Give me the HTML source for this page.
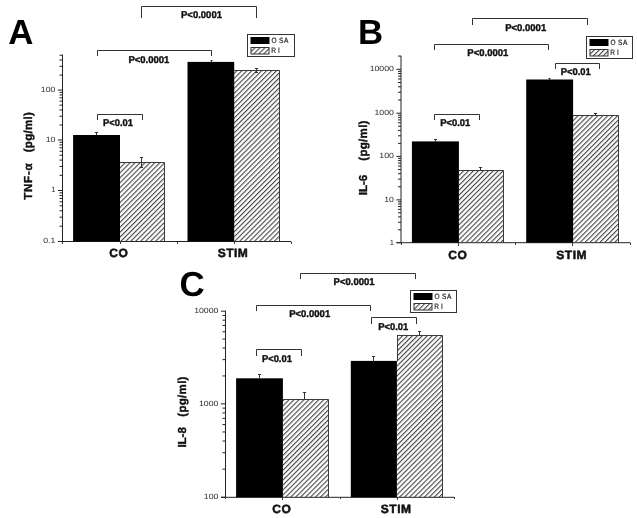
<!DOCTYPE html>
<html><head><meta charset="utf-8"><title>Figure</title>
<style>
html,body{margin:0;padding:0;background:#fff;}
svg{display:block;font-family:"Liberation Sans",sans-serif;text-rendering:geometricPrecision;}
</style></head><body>
<svg width="637" height="518" viewBox="0 0 637 518">
<defs><pattern id="h" width="3.5" height="3.5" patternUnits="userSpaceOnUse" patternTransform="rotate(-45)"><rect x="0" y="0" width="3.5" height="1.1" fill="#444"/></pattern></defs>
<rect width="637" height="518" fill="#fff"/>
<line x1="62.50" y1="54.70" x2="62.50" y2="242.00" stroke="#222" stroke-width="1"/>
<line x1="58.00" y1="241.50" x2="291.30" y2="241.50" stroke="#222" stroke-width="1"/>
<line x1="57.90" y1="90.10" x2="62.50" y2="90.10" stroke="#222" stroke-width="1"/>
<text x="55.40" y="91.90" font-size="7.6" font-weight="normal" text-anchor="end" fill="#2a2a2a"  textLength="14.55" lengthAdjust="spacingAndGlyphs">100</text>
<line x1="57.90" y1="140.00" x2="62.50" y2="140.00" stroke="#222" stroke-width="1"/>
<text x="55.40" y="141.80" font-size="7.6" font-weight="normal" text-anchor="end" fill="#2a2a2a"  textLength="9.70" lengthAdjust="spacingAndGlyphs">10</text>
<line x1="57.90" y1="190.50" x2="62.50" y2="190.50" stroke="#222" stroke-width="1"/>
<text x="55.40" y="192.30" font-size="7.6" font-weight="normal" text-anchor="end" fill="#2a2a2a"  >1</text>
<line x1="57.90" y1="241.50" x2="62.50" y2="241.50" stroke="#222" stroke-width="1"/>
<text x="55.40" y="243.30" font-size="7.6" font-weight="normal" text-anchor="end" fill="#2a2a2a"  textLength="12.12" lengthAdjust="spacingAndGlyphs">0.1</text>
<line x1="59.50" y1="75.08" x2="62.50" y2="75.08" stroke="#222" stroke-width="1"/>
<line x1="59.50" y1="66.29" x2="62.50" y2="66.29" stroke="#222" stroke-width="1"/>
<line x1="59.50" y1="60.06" x2="62.50" y2="60.06" stroke="#222" stroke-width="1"/>
<line x1="59.50" y1="55.22" x2="62.50" y2="55.22" stroke="#222" stroke-width="1"/>
<line x1="59.50" y1="124.98" x2="62.50" y2="124.98" stroke="#222" stroke-width="1"/>
<line x1="59.50" y1="116.19" x2="62.50" y2="116.19" stroke="#222" stroke-width="1"/>
<line x1="59.50" y1="109.96" x2="62.50" y2="109.96" stroke="#222" stroke-width="1"/>
<line x1="59.50" y1="105.12" x2="62.50" y2="105.12" stroke="#222" stroke-width="1"/>
<line x1="59.50" y1="101.17" x2="62.50" y2="101.17" stroke="#222" stroke-width="1"/>
<line x1="59.50" y1="97.83" x2="62.50" y2="97.83" stroke="#222" stroke-width="1"/>
<line x1="59.50" y1="94.94" x2="62.50" y2="94.94" stroke="#222" stroke-width="1"/>
<line x1="59.50" y1="92.38" x2="62.50" y2="92.38" stroke="#222" stroke-width="1"/>
<line x1="59.50" y1="175.30" x2="62.50" y2="175.30" stroke="#222" stroke-width="1"/>
<line x1="59.50" y1="166.41" x2="62.50" y2="166.41" stroke="#222" stroke-width="1"/>
<line x1="59.50" y1="160.10" x2="62.50" y2="160.10" stroke="#222" stroke-width="1"/>
<line x1="59.50" y1="155.20" x2="62.50" y2="155.20" stroke="#222" stroke-width="1"/>
<line x1="59.50" y1="151.20" x2="62.50" y2="151.20" stroke="#222" stroke-width="1"/>
<line x1="59.50" y1="147.82" x2="62.50" y2="147.82" stroke="#222" stroke-width="1"/>
<line x1="59.50" y1="144.89" x2="62.50" y2="144.89" stroke="#222" stroke-width="1"/>
<line x1="59.50" y1="142.31" x2="62.50" y2="142.31" stroke="#222" stroke-width="1"/>
<line x1="59.50" y1="226.15" x2="62.50" y2="226.15" stroke="#222" stroke-width="1"/>
<line x1="59.50" y1="217.17" x2="62.50" y2="217.17" stroke="#222" stroke-width="1"/>
<line x1="59.50" y1="210.79" x2="62.50" y2="210.79" stroke="#222" stroke-width="1"/>
<line x1="59.50" y1="205.85" x2="62.50" y2="205.85" stroke="#222" stroke-width="1"/>
<line x1="59.50" y1="201.81" x2="62.50" y2="201.81" stroke="#222" stroke-width="1"/>
<line x1="59.50" y1="198.40" x2="62.50" y2="198.40" stroke="#222" stroke-width="1"/>
<line x1="59.50" y1="195.44" x2="62.50" y2="195.44" stroke="#222" stroke-width="1"/>
<line x1="59.50" y1="192.83" x2="62.50" y2="192.83" stroke="#222" stroke-width="1"/>
<line x1="62.50" y1="242.00" x2="62.50" y2="244.00" stroke="#3a3a3a" stroke-width="1"/>
<line x1="120.50" y1="242.00" x2="120.50" y2="244.00" stroke="#3a3a3a" stroke-width="1"/>
<line x1="177.50" y1="242.00" x2="177.50" y2="244.00" stroke="#3a3a3a" stroke-width="1"/>
<line x1="234.50" y1="242.00" x2="234.50" y2="244.00" stroke="#3a3a3a" stroke-width="1"/>
<line x1="291.50" y1="242.00" x2="291.50" y2="244.00" stroke="#3a3a3a" stroke-width="1"/>
<rect x="73.10" y="135.00" width="46.90" height="106.50" fill="#000"/>
<line x1="96.50" y1="132.00" x2="96.50" y2="135.00" stroke="#333" stroke-width="1"/>
<path d="M94.90 132.50h3.20" stroke="#333" stroke-width="1"/>
<path d="M120.00 162.50H164.50V241.50H120.00Z" fill="url(#h)" stroke="none"/>
<path d="M120.00 162.50H164.50V241.50" fill="none" stroke="#3a3a3a" stroke-width="1"/>
<line x1="141.50" y1="158.00" x2="141.50" y2="168.00" stroke="#333" stroke-width="1"/>
<path d="M139.90 157.50h3.20" stroke="#333" stroke-width="1"/>
<path d="M139.90 167.50h3.20" stroke="#333" stroke-width="1"/>
<rect x="187.50" y="61.90" width="46.70" height="179.60" fill="#000"/>
<line x1="211.50" y1="61.00" x2="211.50" y2="62.00" stroke="#333" stroke-width="1"/>
<path d="M210.50 60.50h2.00" stroke="#333" stroke-width="1"/>
<path d="M234.00 70.50H279.50V241.50H234.00Z" fill="url(#h)" stroke="none"/>
<path d="M234.00 70.50H279.50V241.50" fill="none" stroke="#3a3a3a" stroke-width="1"/>
<line x1="256.50" y1="68.00" x2="256.50" y2="73.00" stroke="#333" stroke-width="1"/>
<path d="M254.90 68.50h3.20" stroke="#333" stroke-width="1"/>
<path d="M254.90 72.50h3.20" stroke="#333" stroke-width="1"/>
<text x="118.80" y="257.40" font-size="12" font-weight="bold" text-anchor="middle" fill="#111" stroke="#111" stroke-width="0.5" stroke-linejoin="round" letter-spacing="0.5">CO</text>
<text x="233.00" y="257.40" font-size="12" font-weight="bold" text-anchor="middle" fill="#111" stroke="#111" stroke-width="0.5" stroke-linejoin="round" letter-spacing="0.5">STIM</text>
<text transform="translate(31.70 199.80) rotate(-90)" font-size="11.6" font-weight="bold" fill="#111" stroke="#111" stroke-width="0.35" textLength="36.5" lengthAdjust="spacing">TNF-α</text>
<text transform="translate(31.70 152.30) rotate(-90)" font-size="11.6" font-weight="bold" fill="#111" stroke="#111" stroke-width="0.35" textLength="40.2" lengthAdjust="spacing">(pg/ml)</text>
<text x="8.20" y="44.30" font-size="34.8" font-weight="bold" text-anchor="start" fill="#000"  >A</text>
<path d="M141.50 18.00V6.50H256.50V18.00" fill="none" stroke="#333" stroke-width="1"/>
<text x="181.00" y="18.20" font-size="9.8" font-weight="bold" text-anchor="start" fill="#111" stroke="#111" stroke-width="0.4" stroke-linejoin="round" textLength="41.0" lengthAdjust="spacingAndGlyphs">P&lt;0.0001</text>
<path d="M97.50 56.00V50.50H211.50V56.00" fill="none" stroke="#333" stroke-width="1"/>
<text x="128.40" y="62.50" font-size="9.8" font-weight="bold" text-anchor="start" fill="#111" stroke="#111" stroke-width="0.4" stroke-linejoin="round" textLength="41.0" lengthAdjust="spacingAndGlyphs">P&lt;0.0001</text>
<path d="M97.50 120.00V114.50H142.50V120.00" fill="none" stroke="#333" stroke-width="1"/>
<text x="103.00" y="126.20" font-size="9.8" font-weight="bold" text-anchor="start" fill="#111" stroke="#111" stroke-width="0.4" stroke-linejoin="round" textLength="30.0" lengthAdjust="spacingAndGlyphs">P&lt;0.01</text>
<rect x="247.50" y="34.50" width="47.00" height="22.00" fill="#fff" stroke="#333" stroke-width="1"/>
<rect x="250.50" y="37.00" width="19" height="7" fill="#000"/>
<rect x="251.00" y="47.50" width="18" height="6.5" fill="url(#h)" stroke="#333" stroke-width="1"/>
<text transform="translate(247.50 43.10) scale(0.85 1)" x="28.24 36.94 42.82" y="0" font-size="7.7" fill="#222" stroke="#222" stroke-width="0.2">OSA</text>
<text transform="translate(247.50 52.90) scale(0.85 1)" x="28.00 35.76" y="0" font-size="7.7" fill="#222" stroke="#222" stroke-width="0.2">RI</text>
<line x1="401.00" y1="55.80" x2="401.00" y2="243.20" stroke="#222" stroke-width="1"/>
<line x1="396.50" y1="242.70" x2="630.50" y2="242.70" stroke="#222" stroke-width="1"/>
<line x1="396.40" y1="69.30" x2="401.00" y2="69.30" stroke="#222" stroke-width="1"/>
<text x="393.90" y="71.10" font-size="7.6" font-weight="normal" text-anchor="end" fill="#2a2a2a"  textLength="24.25" lengthAdjust="spacingAndGlyphs">10000</text>
<line x1="396.40" y1="113.20" x2="401.00" y2="113.20" stroke="#222" stroke-width="1"/>
<text x="393.90" y="115.00" font-size="7.6" font-weight="normal" text-anchor="end" fill="#2a2a2a"  textLength="19.40" lengthAdjust="spacingAndGlyphs">1000</text>
<line x1="396.40" y1="156.40" x2="401.00" y2="156.40" stroke="#222" stroke-width="1"/>
<text x="393.90" y="158.20" font-size="7.6" font-weight="normal" text-anchor="end" fill="#2a2a2a"  textLength="14.55" lengthAdjust="spacingAndGlyphs">100</text>
<line x1="396.40" y1="199.85" x2="401.00" y2="199.85" stroke="#222" stroke-width="1"/>
<text x="393.90" y="201.65" font-size="7.6" font-weight="normal" text-anchor="end" fill="#2a2a2a"  textLength="9.70" lengthAdjust="spacingAndGlyphs">10</text>
<line x1="396.40" y1="242.70" x2="401.00" y2="242.70" stroke="#222" stroke-width="1"/>
<text x="393.90" y="244.50" font-size="7.6" font-weight="normal" text-anchor="end" fill="#2a2a2a"  >1</text>
<line x1="398.00" y1="56.08" x2="401.00" y2="56.08" stroke="#222" stroke-width="1"/>
<line x1="398.00" y1="99.98" x2="401.00" y2="99.98" stroke="#222" stroke-width="1"/>
<line x1="398.00" y1="92.25" x2="401.00" y2="92.25" stroke="#222" stroke-width="1"/>
<line x1="398.00" y1="86.77" x2="401.00" y2="86.77" stroke="#222" stroke-width="1"/>
<line x1="398.00" y1="82.52" x2="401.00" y2="82.52" stroke="#222" stroke-width="1"/>
<line x1="398.00" y1="79.04" x2="401.00" y2="79.04" stroke="#222" stroke-width="1"/>
<line x1="398.00" y1="76.10" x2="401.00" y2="76.10" stroke="#222" stroke-width="1"/>
<line x1="398.00" y1="73.55" x2="401.00" y2="73.55" stroke="#222" stroke-width="1"/>
<line x1="398.00" y1="71.31" x2="401.00" y2="71.31" stroke="#222" stroke-width="1"/>
<line x1="398.00" y1="143.40" x2="401.00" y2="143.40" stroke="#222" stroke-width="1"/>
<line x1="398.00" y1="135.79" x2="401.00" y2="135.79" stroke="#222" stroke-width="1"/>
<line x1="398.00" y1="130.39" x2="401.00" y2="130.39" stroke="#222" stroke-width="1"/>
<line x1="398.00" y1="126.20" x2="401.00" y2="126.20" stroke="#222" stroke-width="1"/>
<line x1="398.00" y1="122.78" x2="401.00" y2="122.78" stroke="#222" stroke-width="1"/>
<line x1="398.00" y1="119.89" x2="401.00" y2="119.89" stroke="#222" stroke-width="1"/>
<line x1="398.00" y1="117.39" x2="401.00" y2="117.39" stroke="#222" stroke-width="1"/>
<line x1="398.00" y1="115.18" x2="401.00" y2="115.18" stroke="#222" stroke-width="1"/>
<line x1="398.00" y1="186.77" x2="401.00" y2="186.77" stroke="#222" stroke-width="1"/>
<line x1="398.00" y1="179.12" x2="401.00" y2="179.12" stroke="#222" stroke-width="1"/>
<line x1="398.00" y1="173.69" x2="401.00" y2="173.69" stroke="#222" stroke-width="1"/>
<line x1="398.00" y1="169.48" x2="401.00" y2="169.48" stroke="#222" stroke-width="1"/>
<line x1="398.00" y1="166.04" x2="401.00" y2="166.04" stroke="#222" stroke-width="1"/>
<line x1="398.00" y1="163.13" x2="401.00" y2="163.13" stroke="#222" stroke-width="1"/>
<line x1="398.00" y1="160.61" x2="401.00" y2="160.61" stroke="#222" stroke-width="1"/>
<line x1="398.00" y1="158.39" x2="401.00" y2="158.39" stroke="#222" stroke-width="1"/>
<line x1="398.00" y1="229.80" x2="401.00" y2="229.80" stroke="#222" stroke-width="1"/>
<line x1="398.00" y1="222.26" x2="401.00" y2="222.26" stroke="#222" stroke-width="1"/>
<line x1="398.00" y1="216.90" x2="401.00" y2="216.90" stroke="#222" stroke-width="1"/>
<line x1="398.00" y1="212.75" x2="401.00" y2="212.75" stroke="#222" stroke-width="1"/>
<line x1="398.00" y1="209.36" x2="401.00" y2="209.36" stroke="#222" stroke-width="1"/>
<line x1="398.00" y1="206.49" x2="401.00" y2="206.49" stroke="#222" stroke-width="1"/>
<line x1="398.00" y1="204.00" x2="401.00" y2="204.00" stroke="#222" stroke-width="1"/>
<line x1="398.00" y1="201.81" x2="401.00" y2="201.81" stroke="#222" stroke-width="1"/>
<line x1="401.50" y1="243.00" x2="401.50" y2="245.00" stroke="#3a3a3a" stroke-width="1"/>
<line x1="458.50" y1="243.00" x2="458.50" y2="246.00" stroke="#3a3a3a" stroke-width="1"/>
<line x1="515.50" y1="243.00" x2="515.50" y2="245.00" stroke="#3a3a3a" stroke-width="1"/>
<line x1="572.50" y1="243.00" x2="572.50" y2="246.00" stroke="#3a3a3a" stroke-width="1"/>
<line x1="630.50" y1="243.00" x2="630.50" y2="245.00" stroke="#3a3a3a" stroke-width="1"/>
<rect x="411.90" y="141.40" width="47.00" height="101.30" fill="#000"/>
<line x1="435.50" y1="140.00" x2="435.50" y2="142.00" stroke="#333" stroke-width="1"/>
<path d="M433.90 139.50h3.20" stroke="#333" stroke-width="1"/>
<path d="M459.00 170.50H503.50V242.50H459.00Z" fill="url(#h)" stroke="none"/>
<path d="M459.00 170.50H503.50V242.50" fill="none" stroke="#3a3a3a" stroke-width="1"/>
<line x1="480.50" y1="167.00" x2="480.50" y2="170.00" stroke="#333" stroke-width="1"/>
<path d="M478.90 167.50h3.20" stroke="#333" stroke-width="1"/>
<rect x="526.20" y="79.50" width="46.90" height="163.20" fill="#000"/>
<line x1="549.50" y1="78.00" x2="549.50" y2="80.00" stroke="#333" stroke-width="1"/>
<path d="M548.50 78.50h2.00" stroke="#333" stroke-width="1"/>
<path d="M573.00 115.50H618.50V242.50H573.00Z" fill="url(#h)" stroke="none"/>
<path d="M573.00 115.50H618.50V242.50" fill="none" stroke="#3a3a3a" stroke-width="1"/>
<line x1="595.50" y1="113.00" x2="595.50" y2="116.00" stroke="#333" stroke-width="1"/>
<path d="M593.90 113.50h3.20" stroke="#333" stroke-width="1"/>
<text x="457.80" y="259.00" font-size="12" font-weight="bold" text-anchor="middle" fill="#111" stroke="#111" stroke-width="0.5" stroke-linejoin="round" letter-spacing="0.5">CO</text>
<text x="571.70" y="259.00" font-size="12" font-weight="bold" text-anchor="middle" fill="#111" stroke="#111" stroke-width="0.5" stroke-linejoin="round" letter-spacing="0.5">STIM</text>
<text transform="translate(366.90 195.20) rotate(-90)" font-size="11.6" font-weight="bold" fill="#111" stroke="#111" stroke-width="0.35" textLength="20.5" lengthAdjust="spacing">IL-6</text>
<text transform="translate(366.90 160.70) rotate(-90)" font-size="11.6" font-weight="bold" fill="#111" stroke="#111" stroke-width="0.35" textLength="40.2" lengthAdjust="spacing">(pg/ml)</text>
<text x="357.90" y="44.40" font-size="34.8" font-weight="bold" text-anchor="start" fill="#000"  >B</text>
<path d="M472.50 25.00V18.50H587.50V25.00" fill="none" stroke="#333" stroke-width="1"/>
<text x="505.20" y="30.60" font-size="9.8" font-weight="bold" text-anchor="start" fill="#111" stroke="#111" stroke-width="0.4" stroke-linejoin="round" textLength="41.0" lengthAdjust="spacingAndGlyphs">P&lt;0.0001</text>
<path d="M434.50 50.00V44.50H548.50V50.00" fill="none" stroke="#333" stroke-width="1"/>
<text x="467.30" y="56.30" font-size="9.8" font-weight="bold" text-anchor="start" fill="#111" stroke="#111" stroke-width="0.4" stroke-linejoin="round" textLength="41.0" lengthAdjust="spacingAndGlyphs">P&lt;0.0001</text>
<path d="M434.50 120.00V114.50H479.50V120.00" fill="none" stroke="#333" stroke-width="1"/>
<text x="440.20" y="126.20" font-size="9.8" font-weight="bold" text-anchor="start" fill="#111" stroke="#111" stroke-width="0.4" stroke-linejoin="round" textLength="30.0" lengthAdjust="spacingAndGlyphs">P&lt;0.01</text>
<path d="M555.50 69.00V63.50H599.50V69.00" fill="none" stroke="#333" stroke-width="1"/>
<text x="560.80" y="75.30" font-size="9.8" font-weight="bold" text-anchor="start" fill="#111" stroke="#111" stroke-width="0.4" stroke-linejoin="round" textLength="30.0" lengthAdjust="spacingAndGlyphs">P&lt;0.01</text>
<rect x="586.50" y="36.50" width="46.00" height="22.00" fill="#fff" stroke="#333" stroke-width="1"/>
<rect x="589.50" y="39.00" width="19" height="7" fill="#000"/>
<rect x="590.00" y="49.50" width="18" height="6.5" fill="url(#h)" stroke="#333" stroke-width="1"/>
<text transform="translate(586.50 45.10) scale(0.85 1)" x="28.24 36.94 42.82" y="0" font-size="7.7" fill="#222" stroke="#222" stroke-width="0.2">OSA</text>
<text transform="translate(586.50 54.90) scale(0.85 1)" x="28.00 35.76" y="0" font-size="7.7" fill="#222" stroke="#222" stroke-width="0.2">RI</text>
<line x1="225.50" y1="310.70" x2="225.50" y2="497.80" stroke="#222" stroke-width="1"/>
<line x1="221.00" y1="497.30" x2="454.30" y2="497.30" stroke="#222" stroke-width="1"/>
<line x1="220.90" y1="311.20" x2="225.50" y2="311.20" stroke="#222" stroke-width="1"/>
<text x="218.40" y="313.00" font-size="7.6" font-weight="normal" text-anchor="end" fill="#2a2a2a"  textLength="24.25" lengthAdjust="spacingAndGlyphs">10000</text>
<line x1="220.90" y1="403.85" x2="225.50" y2="403.85" stroke="#222" stroke-width="1"/>
<text x="218.40" y="405.65" font-size="7.6" font-weight="normal" text-anchor="end" fill="#2a2a2a"  textLength="19.40" lengthAdjust="spacingAndGlyphs">1000</text>
<line x1="220.90" y1="497.30" x2="225.50" y2="497.30" stroke="#222" stroke-width="1"/>
<text x="218.40" y="499.10" font-size="7.6" font-weight="normal" text-anchor="end" fill="#2a2a2a"  textLength="14.55" lengthAdjust="spacingAndGlyphs">100</text>
<line x1="222.50" y1="375.96" x2="225.50" y2="375.96" stroke="#222" stroke-width="1"/>
<line x1="222.50" y1="359.64" x2="225.50" y2="359.64" stroke="#222" stroke-width="1"/>
<line x1="222.50" y1="348.07" x2="225.50" y2="348.07" stroke="#222" stroke-width="1"/>
<line x1="222.50" y1="339.09" x2="225.50" y2="339.09" stroke="#222" stroke-width="1"/>
<line x1="222.50" y1="331.75" x2="225.50" y2="331.75" stroke="#222" stroke-width="1"/>
<line x1="222.50" y1="325.55" x2="225.50" y2="325.55" stroke="#222" stroke-width="1"/>
<line x1="222.50" y1="320.18" x2="225.50" y2="320.18" stroke="#222" stroke-width="1"/>
<line x1="222.50" y1="315.44" x2="225.50" y2="315.44" stroke="#222" stroke-width="1"/>
<line x1="222.50" y1="469.17" x2="225.50" y2="469.17" stroke="#222" stroke-width="1"/>
<line x1="222.50" y1="452.71" x2="225.50" y2="452.71" stroke="#222" stroke-width="1"/>
<line x1="222.50" y1="441.04" x2="225.50" y2="441.04" stroke="#222" stroke-width="1"/>
<line x1="222.50" y1="431.98" x2="225.50" y2="431.98" stroke="#222" stroke-width="1"/>
<line x1="222.50" y1="424.58" x2="225.50" y2="424.58" stroke="#222" stroke-width="1"/>
<line x1="222.50" y1="418.33" x2="225.50" y2="418.33" stroke="#222" stroke-width="1"/>
<line x1="222.50" y1="412.91" x2="225.50" y2="412.91" stroke="#222" stroke-width="1"/>
<line x1="222.50" y1="408.13" x2="225.50" y2="408.13" stroke="#222" stroke-width="1"/>
<line x1="225.50" y1="497.00" x2="225.50" y2="499.00" stroke="#3a3a3a" stroke-width="1"/>
<line x1="282.50" y1="497.00" x2="282.50" y2="500.00" stroke="#3a3a3a" stroke-width="1"/>
<line x1="340.50" y1="497.00" x2="340.50" y2="499.00" stroke="#3a3a3a" stroke-width="1"/>
<line x1="397.50" y1="497.00" x2="397.50" y2="500.00" stroke="#3a3a3a" stroke-width="1"/>
<line x1="454.50" y1="497.00" x2="454.50" y2="499.00" stroke="#3a3a3a" stroke-width="1"/>
<rect x="236.10" y="378.30" width="46.80" height="119.00" fill="#000"/>
<line x1="259.50" y1="374.00" x2="259.50" y2="378.00" stroke="#333" stroke-width="1"/>
<path d="M257.90 374.50h3.20" stroke="#333" stroke-width="1"/>
<path d="M283.00 399.50H328.50V497.50H283.00Z" fill="url(#h)" stroke="none"/>
<path d="M283.00 399.50H328.50V497.50" fill="none" stroke="#3a3a3a" stroke-width="1"/>
<line x1="304.50" y1="392.00" x2="304.50" y2="400.00" stroke="#333" stroke-width="1"/>
<path d="M302.90 392.50h3.20" stroke="#333" stroke-width="1"/>
<rect x="350.80" y="360.90" width="46.10" height="136.40" fill="#000"/>
<line x1="373.50" y1="356.00" x2="373.50" y2="361.00" stroke="#333" stroke-width="1"/>
<path d="M371.90 356.50h3.20" stroke="#333" stroke-width="1"/>
<path d="M397.00 335.50H442.50V497.50H397.00Z" fill="url(#h)" stroke="none"/>
<path d="M397.00 335.50H442.50V497.50" fill="none" stroke="#3a3a3a" stroke-width="1"/>
<path d="M397.50 335.50V360.90" fill="none" stroke="#3a3a3a" stroke-width="1"/>
<line x1="419.50" y1="332.00" x2="419.50" y2="336.00" stroke="#333" stroke-width="1"/>
<path d="M417.90 331.50h3.20" stroke="#333" stroke-width="1"/>
<text x="281.80" y="512.90" font-size="12" font-weight="bold" text-anchor="middle" fill="#111" stroke="#111" stroke-width="0.5" stroke-linejoin="round" letter-spacing="0.5">CO</text>
<text x="396.20" y="512.90" font-size="12" font-weight="bold" text-anchor="middle" fill="#111" stroke="#111" stroke-width="0.5" stroke-linejoin="round" letter-spacing="0.5">STIM</text>
<text transform="translate(186.20 447.60) rotate(-90)" font-size="11.6" font-weight="bold" fill="#111" stroke="#111" stroke-width="0.35" textLength="20.5" lengthAdjust="spacing">IL-8</text>
<text transform="translate(186.20 416.70) rotate(-90)" font-size="11.6" font-weight="bold" fill="#111" stroke="#111" stroke-width="0.35" textLength="40.2" lengthAdjust="spacing">(pg/ml)</text>
<text x="179.60" y="296.20" font-size="34.8" font-weight="bold" text-anchor="start" fill="#000"  >C</text>
<path d="M300.50 279.00V273.50H415.50V279.00" fill="none" stroke="#333" stroke-width="1"/>
<text x="333.60" y="285.40" font-size="9.8" font-weight="bold" text-anchor="start" fill="#111" stroke="#111" stroke-width="0.4" stroke-linejoin="round" textLength="41.0" lengthAdjust="spacingAndGlyphs">P&lt;0.0001</text>
<path d="M256.50 311.00V305.50H370.50V311.00" fill="none" stroke="#333" stroke-width="1"/>
<text x="289.20" y="317.20" font-size="9.8" font-weight="bold" text-anchor="start" fill="#111" stroke="#111" stroke-width="0.4" stroke-linejoin="round" textLength="41.0" lengthAdjust="spacingAndGlyphs">P&lt;0.0001</text>
<path d="M256.50 356.00V349.50H301.50V356.00" fill="none" stroke="#333" stroke-width="1"/>
<text x="261.90" y="361.50" font-size="9.8" font-weight="bold" text-anchor="start" fill="#111" stroke="#111" stroke-width="0.4" stroke-linejoin="round" textLength="30.0" lengthAdjust="spacingAndGlyphs">P&lt;0.01</text>
<path d="M371.50 324.00V317.50H416.50V324.00" fill="none" stroke="#333" stroke-width="1"/>
<text x="378.30" y="329.50" font-size="9.8" font-weight="bold" text-anchor="start" fill="#111" stroke="#111" stroke-width="0.4" stroke-linejoin="round" textLength="30.0" lengthAdjust="spacingAndGlyphs">P&lt;0.01</text>
<rect x="410.50" y="290.50" width="46.00" height="22.00" fill="#fff" stroke="#333" stroke-width="1"/>
<rect x="413.50" y="293.00" width="19" height="7" fill="#000"/>
<rect x="414.00" y="303.50" width="18" height="6.5" fill="url(#h)" stroke="#333" stroke-width="1"/>
<text transform="translate(410.50 299.10) scale(0.85 1)" x="28.24 36.94 42.82" y="0" font-size="7.7" fill="#222" stroke="#222" stroke-width="0.2">OSA</text>
<text transform="translate(410.50 308.90) scale(0.85 1)" x="28.00 35.76" y="0" font-size="7.7" fill="#222" stroke="#222" stroke-width="0.2">RI</text>
</svg>
</body></html>
